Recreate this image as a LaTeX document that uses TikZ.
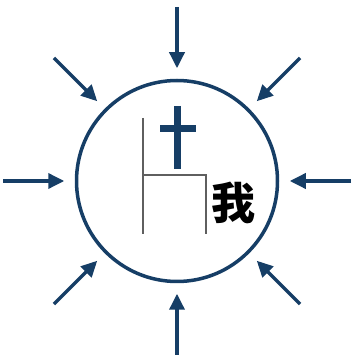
\documentclass[tikz,border=0pt]{standalone}
\usepackage{fontspec}
\newfontfamily\cjk{Noto Sans CJK SC}
\usetikzlibrary{arrows.meta,calc}
\definecolor{ringblue}{RGB}{22,62,102}
\definecolor{frame}{RGB}{95,95,95}

\begin{document}
\begin{tikzpicture}[
    x=1pt,y=1pt,
    ring/.style={circle,draw=ringblue,line width=3.5pt,minimum size=201pt,inner sep=0pt},
    push/.style={-{Triangle[length=16pt,width=15pt]},line width=3.5pt,draw=ringblue,fill=ringblue,shorten >=10.5pt},
    chair/.style={frame,line width=2pt},
    cross/.style={ringblue,line width=7pt}
]
\useasboundingbox (0,0) rectangle (353,356);

\node[ring] (ring) at (177,175) {};

% pressure from all sides
\foreach \a in {0,45,...,315}{
  \coordinate (from\a) at ($(ring.center)+(\a:174)$);
  \draw[push] (from\a) -- (ring.\a);
}

% seat and cross
\draw[chair] (143,238) -- (143,122);
\draw[chair] (143,181) -- (206,181) -- (206,122);
\draw[cross] (177,250) -- (177,187);
\draw[cross] (160,227) -- (196,227);

\node[font=\cjk\bfseries\fontsize{44}{44}\selectfont,inner sep=0pt] (wo) at (233,153) {我};

\end{tikzpicture}
\end{document}
